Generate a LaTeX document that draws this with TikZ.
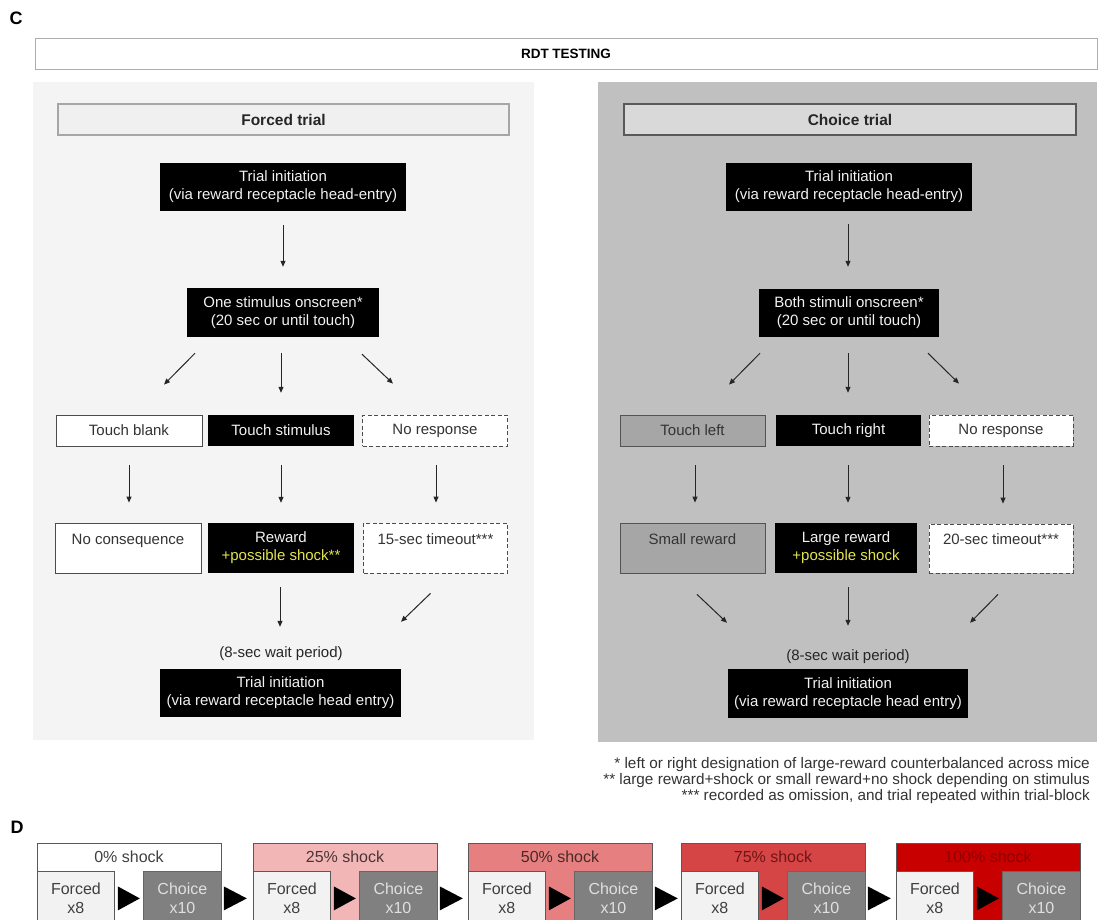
\documentclass[tikz,border=0pt]{standalone}
\usepackage{fontspec}
\setmainfont{Liberation Sans}
\usetikzlibrary{arrows.meta}
\definecolor{panelL}{HTML}{F4F4F4}
\definecolor{panelR}{HTML}{C0C0C0}
\definecolor{hdrL}{HTML}{F0F0F0}
\definecolor{hdrR}{HTML}{D9D9D9}
\definecolor{tgray}{HTML}{A6A6A6}
\definecolor{yel}{HTML}{E4E44C}
\definecolor{sA}{HTML}{FFFFFF}
\definecolor{sB}{HTML}{F2B6B6}
\definecolor{sC}{HTML}{E68080}
\definecolor{sD}{HTML}{D64545}
\definecolor{sE}{HTML}{C80000}
\definecolor{tA}{HTML}{404040}
\definecolor{tB}{HTML}{4A3535}
\definecolor{tC}{HTML}{4A2828}
\definecolor{tD}{HTML}{6E1515}
\definecolor{tE}{HTML}{8E0000}
\definecolor{fbox}{HTML}{F2F2F2}
\definecolor{cbox}{HTML}{808080}
\tikzset{
  lab/.style={font=\fontsize{15}{18}\selectfont, align=center, inner sep=0pt},
  sz/.style 2 args={minimum width=#1, minimum height=#2},
  blk/.style={lab, fill=black, text=white!95!black},
  wbx/.style={lab, fill=white, draw=gray!60!black, line width=0.8pt, text=black!80},
  dbx/.style={wbx, dash pattern=on 4pt off 2.5pt},
  gbx/.style={lab, fill=tgray, draw=gray!65!black, line width=0.8pt, text=black!80},
  arr/.style={draw=black!85, line width=1pt, -{Triangle[length=6pt,width=5pt]}},
  plain/.style={lab, text=black!85},
  hdr/.style={font=\fontsize{15.5}{17}\bfseries\selectfont, inner sep=0pt, line width=1.1pt, text=black!85},
  dtxt/.style={font=\fontsize{16}{19}\selectfont, align=center, inner sep=0pt},
}
\begin{document}
\begin{tikzpicture}[x=1pt,y=-1pt]
\useasboundingbox (0,0) rectangle (1098,919);
\fill[white] (0,0) rectangle (1098,919);

% ---------- C ----------
\node[font=\fontsize{18}{18}\bfseries\selectfont, inner sep=0pt] (labC) at (16,18) {C};
\node[draw=gray!65, fill=white, line width=1pt, sz={1062}{31}, inner sep=0pt,
      font=\fontsize{13.5}{15}\bfseries\selectfont] (rdt) at (566,53.5) {RDT TESTING};

% panels
\node[fill=panelL, sz={501}{658}, inner sep=0pt] (panL) at (283.5,411) {};
\node[fill=panelR, sz={499}{660}, inner sep=0pt] (panR) at (847.5,412) {};

% ---------- Forced trial ----------
\node[hdr, fill=hdrL, draw=gray!70, sz={451}{31}] (hL) at (283.5,119.5) {Forced trial};
\node[blk, sz={246}{48}] (init1) at (283,187) {Trial initiation\\(via reward receptacle head-entry)};
\node[blk, sz={192}{49}] (stim1) at (283,312.5) {One stimulus onscreen*\\(20 sec or until touch)};
\node[wbx, sz={146}{31}] (blank1) at (129,430.5) {Touch blank};
\node[blk, sz={146}{31}] (touch1) at (281,430.5) {Touch stimulus};
\node[dbx, sz={145}{31}] (nores1) at (435,430.5) {No response};
\node[wbx, sz={146}{50}] (nocons1) at (128,548) {No consequence\\\mbox{}};
\node[blk, sz={146}{50}] (reward1) at (281,548) {Reward\\\textcolor{yel}{+possible shock**}};
\node[dbx, sz={144}{50}] (tmo1) at (435.5,548) {15-sec timeout***\\\mbox{}};
\node[plain] (wait1) at (281,654) {(8-sec wait period)};
\node[blk, sz={241}{48}] (init1b) at (280.5,693) {Trial initiation\\(via reward receptacle head entry)};

\draw[arr] ([shift={(0,14)}]init1.south) -- ([shift={(0,-21)}]stim1.north);
\draw[arr] ([shift={(-88,16)}]stim1.south) -- ([shift={(35,-30)}]blank1.north);
\draw[arr] ([shift={(-2,16)}]stim1.south) -- ([shift={(0,-22)}]touch1.north);
\draw[arr] ([shift={(79,17)}]stim1.south) -- ([shift={(-42,-31)}]nores1.north);
\draw[arr] ([shift={(0,19)}]blank1.south) -- ([shift={(1,-20)}]nocons1.north);
\draw[arr] ([shift={(0,19)}]touch1.south) -- ([shift={(0,-20)}]reward1.north);
\draw[arr] ([shift={(1,19)}]nores1.south) -- ([shift={(0.5,-20)}]tmo1.north);
\draw[arr] ([shift={(-1,14)}]reward1.south) -- ([shift={(-0.5,-42)}]init1b.north);
\draw[arr] ([shift={(-5,20)}]tmo1.south) -- ([shift={(120.5,-47)}]init1b.north);

% ---------- Choice trial ----------
\node[hdr, fill=hdrR, draw=black!65, sz={452}{31}] (hR) at (850,119.5) {Choice trial};
\node[blk, sz={246}{48}] (init2) at (849,187) {Trial initiation\\(via reward receptacle head-entry)};
\node[blk, sz={180}{48}] (stim2) at (849,313) {Both stimuli onscreen*\\(20 sec or until touch)};
\node[gbx, sz={145}{31}] (left2) at (692.5,430.5) {Touch left};
\node[blk, sz={145}{31}] (right2) at (848.5,430.5) {Touch right};
\node[dbx, sz={144}{31}] (nores2) at (1001,430.5) {No response};
\node[gbx, sz={145}{50}] (small2) at (692.5,548) {Small reward\\\mbox{}};
\node[blk, sz={142}{50}] (large2) at (846,548) {Large reward\\\textcolor{yel}{+possible shock}};
\node[dbx, sz={144}{49}] (tmo2) at (1001,548.5) {20-sec timeout***\\\mbox{}};
\node[plain] (wait2) at (848,657) {(8-sec wait period)};
\node[blk, sz={240}{49}] (init2b) at (848,693.5) {Trial initiation\\(via reward receptacle head entry)};

\draw[arr] ([shift={(-1,13)}]init2.south) -- ([shift={(-1,-22)}]stim2.north);
\draw[arr] ([shift={(-89,16)}]stim2.south) -- ([shift={(36.5,-30)}]left2.north);
\draw[arr] ([shift={(-1,16)}]stim2.south) -- ([shift={(-0.5,-22)}]right2.north);
\draw[arr] ([shift={(79,16)}]stim2.south) -- ([shift={(-42,-31)}]nores2.north);
\draw[arr] ([shift={(2.5,19)}]left2.south) -- ([shift={(2.5,-20)}]small2.north);
\draw[arr] ([shift={(-0.5,19)}]right2.south) -- ([shift={(2,-20)}]large2.north);
\draw[arr] ([shift={(2,19)}]nores2.south) -- ([shift={(2,-20)}]tmo2.north);
\draw[arr] ([shift={(4.5,21)}]small2.south) -- ([shift={(-121,-46)}]init2b.north);
\draw[arr] ([shift={(2,14)}]large2.south) -- ([shift={(0,-43)}]init2b.north);
\draw[arr] ([shift={(-3,21)}]tmo2.south) -- ([shift={(122,-46)}]init2b.north);

% footnotes
\node[anchor=north east, align=right, inner sep=0pt, text=black!80,
      font=\fontsize{15.3}{16.3}\selectfont] (notes) at (1090,757)
 {* left or right designation of large-reward counterbalanced across mice\\
  ** large reward+shock or small reward+no shock depending on stimulus\\
  *** recorded as omission, and trial repeated within trial-block};

% ---------- D ----------
\node[font=\fontsize{18}{18}\bfseries\selectfont, inner sep=0pt] (labD) at (17,827) {D};

\foreach \i/\x/\col/\tc/\lab in {1/37/sA/tA/0\% shock, 2/253/sB/tB/25\% shock, 3/468/sC/tC/50\% shock, 4/681/sD/tD/75\% shock, 5/896/sE/tE/100\% shock}{
  \node[draw=gray!70!black, line width=0.8pt, fill=\col, anchor=north west, sz={184}{100}, inner sep=0pt] (blk\i) at (\x,843) {};
  \node[dtxt, text=\tc] (hd\i) at (\x+92,857) {\lab};
  \node[dtxt, draw=gray!70!black, line width=0.8pt, fill=fbox, text=black!75, anchor=north west, sz={77}{54}] (forced\i) at (\x,871) {Forced\\x8};
  \node[dtxt, draw=black!60, line width=0.8pt, fill=cbox, text=white!88!black, anchor=north west, sz={78}{54}] (choice\i) at (\x+106,871) {Choice\\x10};
  \fill[black] ([xshift=3pt]forced\i.east) ++(0,-12) -- ++(22,12) -- ++(-22,12) -- cycle;
}
\foreach \i in {1,2,3,4}{
  \fill[black] ([xshift=2pt]choice\i.east) ++(0,-12) -- ++(23,12) -- ++(-23,12) -- cycle;
}
\end{tikzpicture}
\end{document}
